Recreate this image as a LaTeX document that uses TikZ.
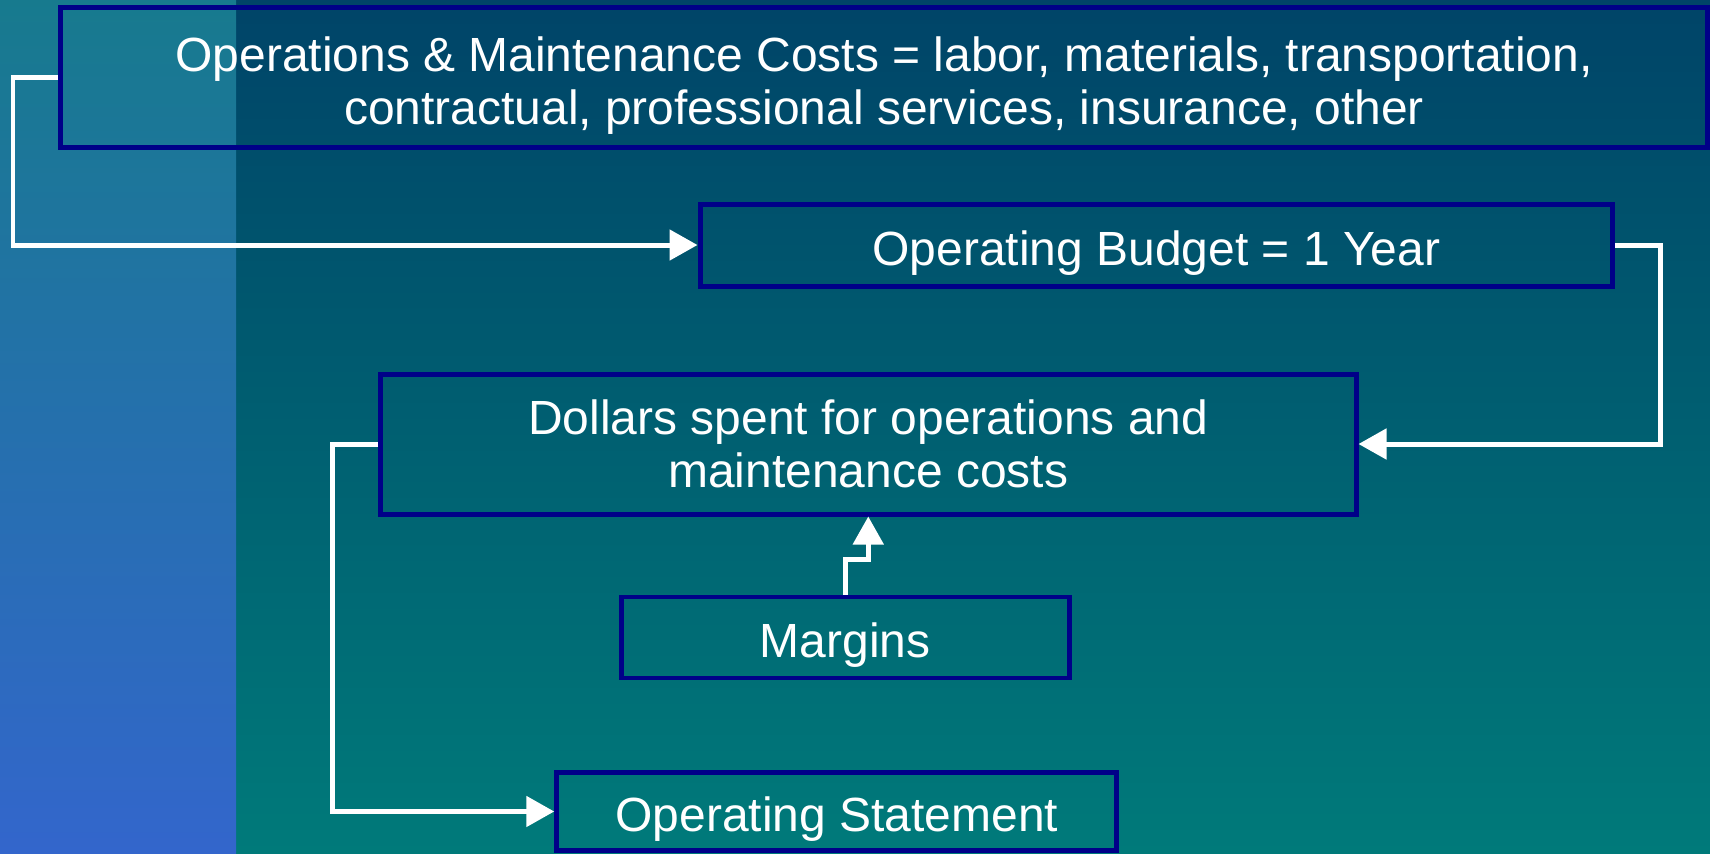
\documentclass[tikz,border=0pt]{standalone}
\usepackage{fontspec}
\setmainfont{Liberation Sans}
\usetikzlibrary{positioning,shapes,arrows.meta}

\definecolor{navyline}{RGB}{0,0,136}
\definecolor{striptop}{RGB}{23,122,142}
\definecolor{stripbot}{RGB}{51,102,204}
\definecolor{maintop}{RGB}{0,68,104}
\definecolor{mainbot}{RGB}{0,122,122}

\begin{document}
\begin{tikzpicture}[
		node distance=0.8cm and 1cm,
		mybox/.style={draw=navyline,line width=1.42pt,rectangle,inner sep=0pt,align=center,text=white,font=\fontsize{13.65}{15}\selectfont},
		onebox/.style={mybox,text height=11.4pt,text depth=0pt},
		myarrow/.style={draw=white,line width=1.42pt,-{Triangle[length=0.28cm,width=0.3cm]}}
		]
		% background
		\useasboundingbox (0,0) rectangle (17.10,-8.53);
		\shade[top color=maintop,bottom color=mainbot] (0,0) rectangle (17.10,-8.53);
		\shade[top color=striptop,bottom color=stripbot] (0,0) rectangle (2.36,-8.53);
		% boxes
		\node[mybox,text height=29.4pt,text depth=2.85pt,minimum width=16.47cm,minimum height=1.40cm] at (8.84,-0.775) (cost)
		{Operations \& Maintenance Costs = labor, materials, transportation,\\
			contractual, professional services, insurance, other};
		\node[onebox,minimum width=9.125cm,minimum height=0.82cm,below left=0.515cm and 0.95cm of cost.south east] (budget)
		{Operating Budget = 1 Year};
		\node[mybox,minimum width=9.755cm,minimum height=1.40cm,below left=0.83cm and 2.565cm of budget.south east] (dollars)
		{Dollars spent for operations and\\
			maintenance costs};
		\node[onebox,minimum width=4.48cm,minimum height=0.81cm,below=0.78cm of dollars.south,xshift=-0.23cm] (margins)
		{Margins};
		\node[onebox,minimum width=5.60cm,minimum height=0.78cm,below=0.895cm of margins.south,xshift=-0.085cm] (statement)
		{Operating Statement};
		% connectors
		\draw[myarrow] (cost.west) -- ++(-0.45,0) |- (budget.west);
		\draw[myarrow] (budget.east) -- ++(0.455,0) |- (dollars.east);
		\draw[myarrow] (margins.north) -- ++(0,0.35) -| (dollars.south);
		\draw[myarrow] (dollars.west) -- ++(-0.455,0) |- (statement.west);
	\end{tikzpicture}
\end{document}
